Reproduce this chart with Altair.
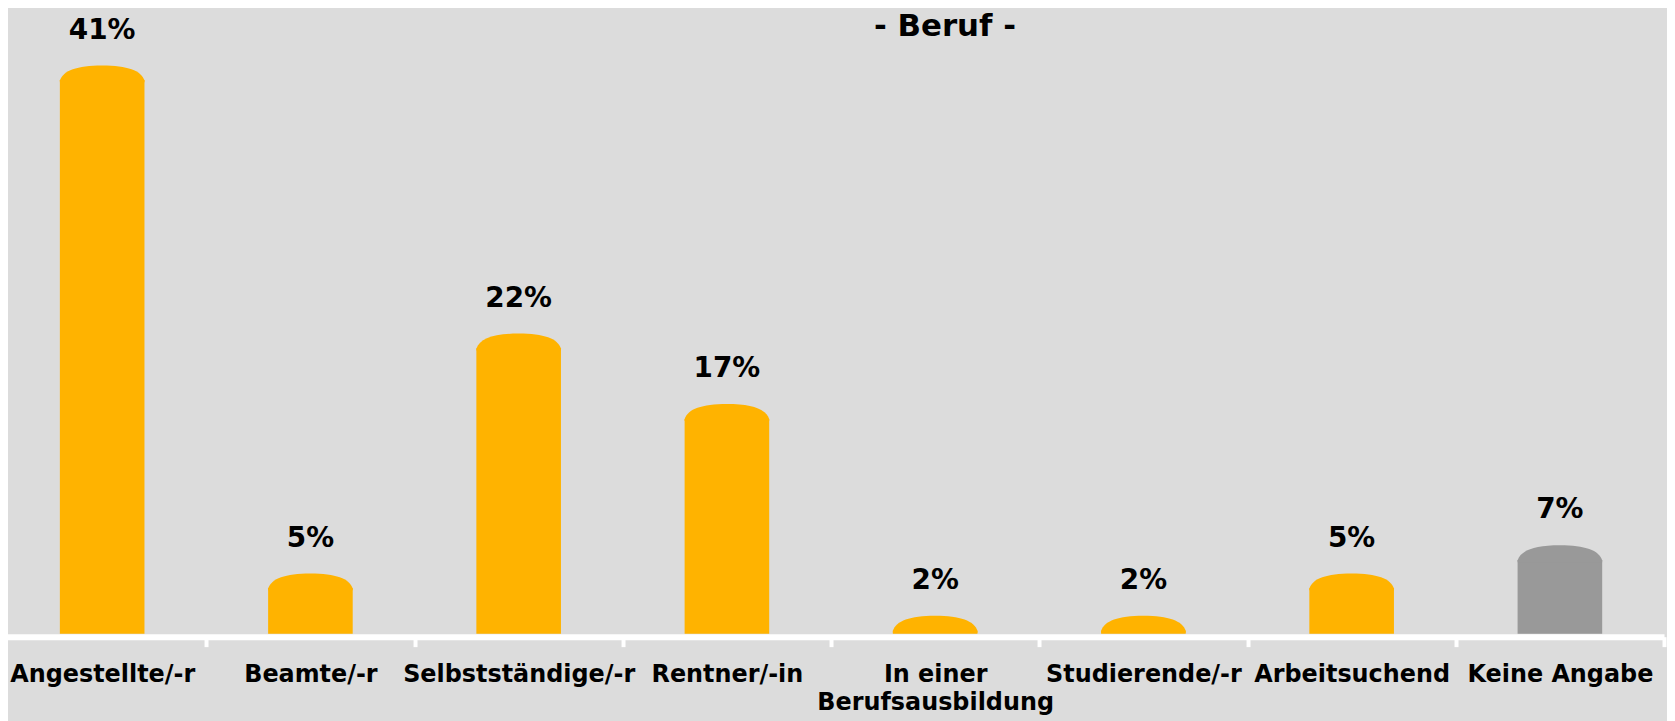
import altair as alt
import pandas as pd

categories = ["Angestellte/-r", "Beamte/-r", "Selbstständige/-r", "Rentner/-in",
              "In einer Berufsausbildung", "Studierende/-r", "Arbeitsuchend", "Keine Angabe"]
values = [41, 5, 22, 17, 2, 2, 5, 7]
labels = ["41%", "5%", "22%", "17%", "2%", "2%", "5%", "7%"]
groups = ["main", "main", "main", "main", "main", "main", "main", "none"]

df = pd.DataFrame({"cat": categories, "value": values, "label": labels, "group": groups})

FONT = "DejaVu Sans"
ORANGE = "#FFB300"
GREY = "#999999"
BG = "#DCDCDC"

W = 1667
H = 571
BASE = 0.73

xenc = alt.X("cat:N", sort=categories, title=None,
             scale=alt.Scale(range=[-10, 1664], paddingInner=0, paddingOuter=0),
             axis=alt.Axis(labelAngle=0, labelFont=FONT, labelFontSize=24, labelFontWeight="bold",
                           labelColor="#000000", labelPadding=16, labelLineHeight=28, labelLimit=0,
                           labelExpr="datum.label == 'In einer Berufsausbildung' ? ['In einer', 'Berufsausbildung'] : datum.label",
                           domainColor="#FFFFFF", domainWidth=6, offset=3,
                           tickColor="#FFFFFF", tickWidth=4, tickSize=10, tickBand="extent",
                           grid=False, labelOverlap=False))
yscale = alt.Scale(domain=[BASE, 41], zero=False, nice=False, clamp=False)
color = alt.Color("group:N", scale=alt.Scale(domain=["main", "none"], range=[ORANGE, GREY]), legend=None)

bars = alt.Chart(df).mark_bar(size=85, yOffset=15).encode(
    x=xenc,
    y=alt.Y("value:Q", scale=yscale, axis=None),
    y2=alt.datum(BASE),
    color=color,
)

cap_path = "M-1,0.4 L-1,0.353 C-0.92,0.12 -0.6,0 0,0 C0.6,0 0.92,0.12 1,0.353 L1,0.4 Z"
caps = alt.Chart(df).mark_point(shape=cap_path, size=85 * 85, filled=True, opacity=1, strokeWidth=0).encode(
    x=alt.X("cat:N", sort=categories),
    y=alt.Y("value:Q", scale=yscale, axis=None),
    color=color,
)

texts = alt.Chart(df).mark_text(font=FONT, fontSize=28, fontWeight="bold", color="#000000",
                                baseline="alphabetic", dy=-27).encode(
    x=alt.X("cat:N", sort=categories),
    y=alt.Y("value:Q", scale=yscale, axis=None),
    text="label:N",
)

chart = alt.layer(bars, caps, texts).properties(
    width=W, height=H,
    title=alt.TitleParams("- Beruf -", font=FONT, fontSize=31, fontWeight="bold", color="#000000",
                          anchor="middle", frame="group", dx=108, offset=-50, baseline="alphabetic"),
    autosize=alt.AutoSizeParams(type="none"),
    padding={"left": 0, "top": 56, "right": 0, "bottom": 86},
).configure(background=BG).configure_view(stroke=None)

chart.save("out.html", embed_options={"renderer": "svg", "actions": False})
